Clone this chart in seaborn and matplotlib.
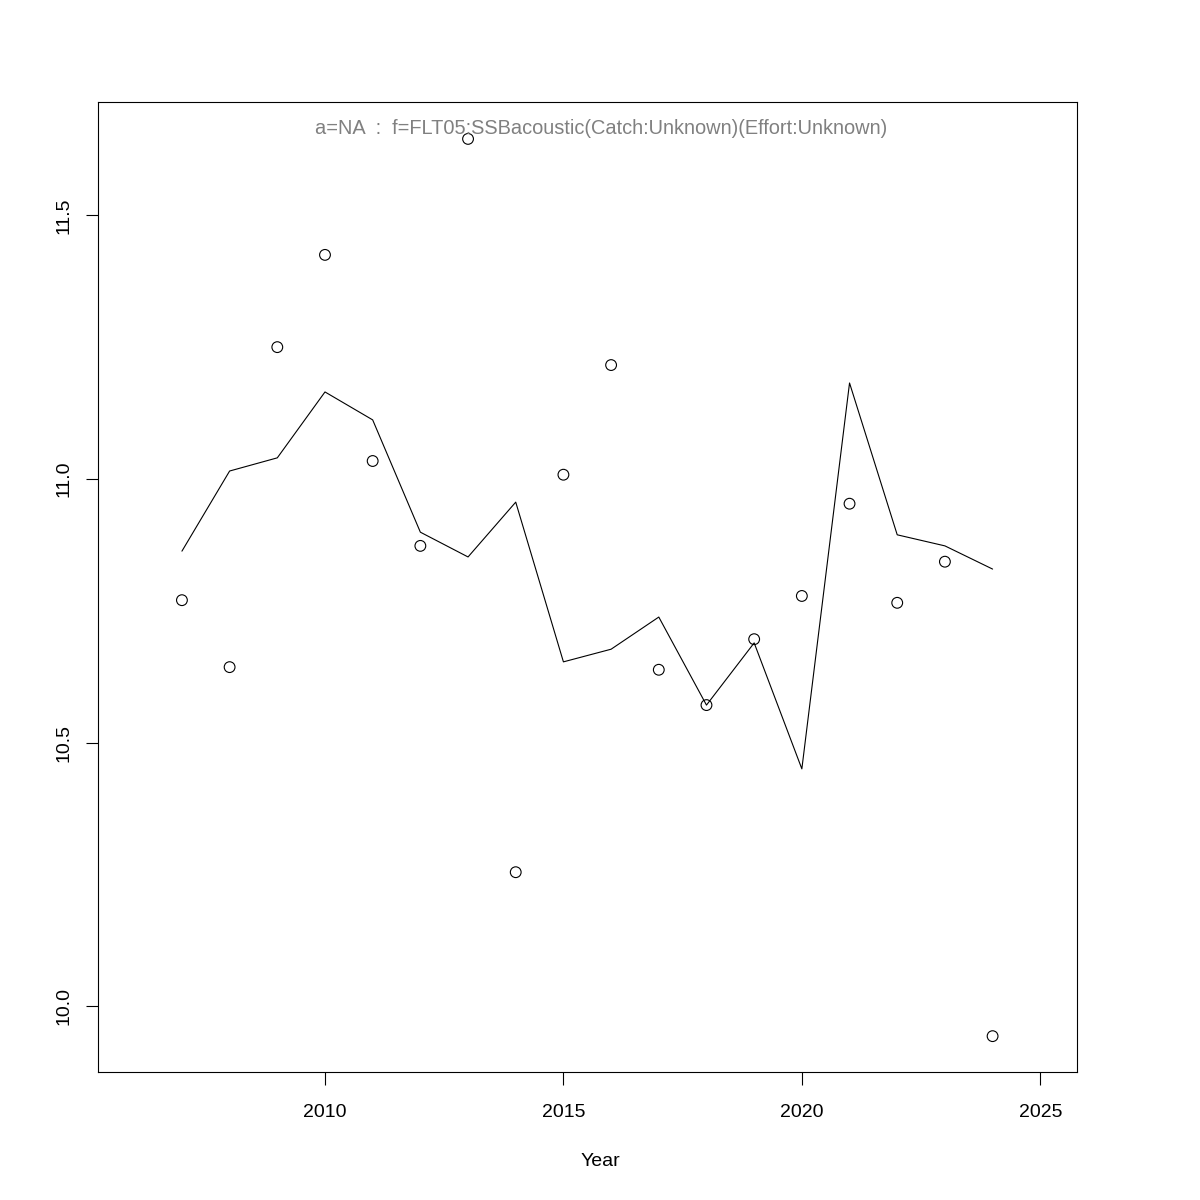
import matplotlib
matplotlib.use("Agg")
import matplotlib.pyplot as plt
import seaborn as sns
import pandas as pd

years = [2007, 2008, 2009, 2010, 2011, 2012, 2013, 2014, 2015, 2016, 2017, 2018, 2019, 2020, 2021, 2022, 2023, 2024]
observed = [10.770, 10.643, 11.250, 11.425, 11.034, 10.873, 11.645, 10.254, 11.008, 11.216,
            10.638, 10.571, 10.696, 10.778, 10.953, 10.765, 10.843, 9.943]
fitted = [10.863, 11.015, 11.040, 11.165, 11.112, 10.899, 10.852, 10.956, 10.653, 10.677,
          10.738, 10.571, 10.689, 10.450, 11.182, 10.894, 10.873, 10.829]
title_text = "a=NA  :  f=FLT05:SSBacoustic(Catch:Unknown)(Effort:Unknown)"
x_ticks = [2010, 2015, 2020, 2025]
y_ticks = [10.0, 10.5, 11.0, 11.5]

df = pd.DataFrame({"Year": years, "obs": observed, "fit": fitted})

sns.set_style("white")
plt.rcParams['font.family'] = ['Liberation Sans', 'DejaVu Sans']

fig = plt.figure(figsize=(12, 12), dpi=100)
ax = fig.add_axes([98/1200, 1 - 1072/1200, 979/1200, 970/1200])

sns.lineplot(data=df, x="Year", y="fit", ax=ax, color="black", linewidth=0.8)
sns.scatterplot(data=df, x="Year", y="obs", ax=ax, marker="o", s=60,
                facecolors="none", edgecolor="black", linewidth=0.8)

ax.set_xlim(2005.24, 2025.77)
ax.set_ylim(9.875, 11.715)
ax.set_xticks(x_ticks)
ax.set_xticklabels([str(t) for t in x_ticks])
ax.set_yticks(y_ticks)
ax.set_yticklabels([f"{t:.1f}" for t in y_ticks], rotation=90, va="center")
ax.tick_params(axis="both", direction="out", length=9, width=0.8, color="black",
               labelsize=14, labelcolor="black", bottom=True, left=True)
ax.tick_params(axis="x", pad=14)
ax.tick_params(axis="y", pad=9)
for s in ax.spines.values():
    s.set_color("black")
    s.set_linewidth(0.8)
ax.set_xlabel("")
ax.set_ylabel("")
fig.text(600/1200, 1 - 1162/1200, "Year", ha="center", va="center", fontsize=14, color="black")
fig.text(601/1200, 1 - 128/1200, title_text, ha="center", va="center",
         fontsize=14.4, color="#808080")

fig.savefig("out.png", dpi=100)
